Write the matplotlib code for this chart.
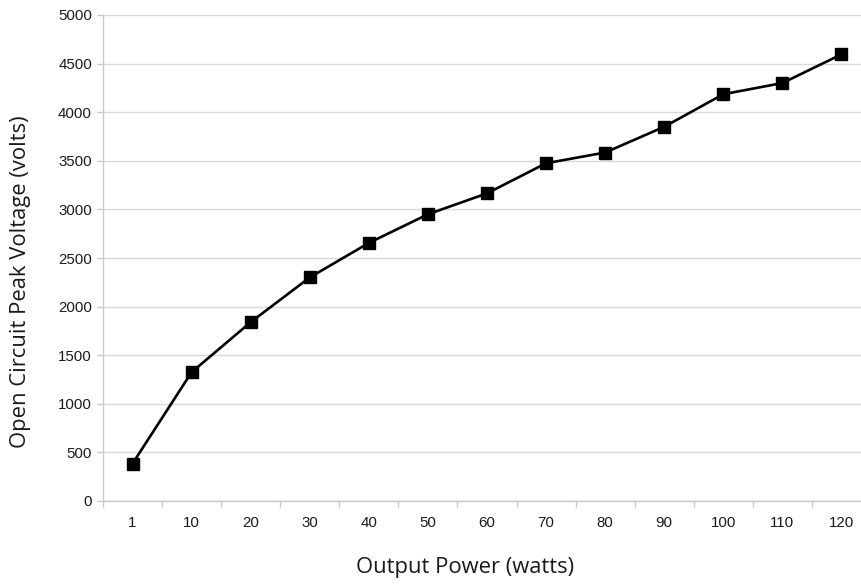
import matplotlib
matplotlib.use("Agg")
import matplotlib.pyplot as plt
import numpy as np

categories = ["1", "10", "20", "30", "40", "50", "60", "70", "80", "90", "100", "110", "120"]
voltage = [385, 1325, 1840, 2300, 2655, 2950, 3165, 3475, 3585, 3850, 4185, 4300, 4595]
y_ticks = [0, 500, 1000, 1500, 2000, 2500, 3000, 3500, 4000, 4500, 5000]

fig = plt.figure(figsize=(8.62, 5.86), dpi=100)
W, H = 862, 586
left_px, right_px, top_px, bottom_px = 103, 871, 15, 501
ax = fig.add_axes([left_px / W, (H - bottom_px) / H, (right_px - left_px) / W, (bottom_px - top_px) / H])

x = np.arange(len(categories))
ax.plot(x, voltage, color="black", linewidth=1.9, marker="s", markersize=8.6,
        markerfacecolor="black", markeredgecolor="black", zorder=3, clip_on=False)

ax.set_xlim(-0.5, len(categories) - 0.5)
ax.set_ylim(0, 5000)
ax.set_yticks(y_ticks)
ax.set_yticklabels([str(v) for v in y_ticks])
ax.set_xticks(x)
ax.set_xticklabels(categories)
ax.set_xticks(np.arange(-0.5, len(categories) + 0.5, 1.0), minor=True)

ax.grid(axis="y", color="#d9d9d9", linewidth=1.0, zorder=0)
ax.set_axisbelow(True)
for s in ["top", "right"]:
    ax.spines[s].set_visible(False)
for s in ["left", "bottom"]:
    ax.spines[s].set_color("#c8c8c8")
    ax.spines[s].set_linewidth(1.0)

tick_font = "Liberation Sans"
ax.tick_params(axis="y", which="major", length=4, width=1, color="#c8c8c8", pad=4,
               labelsize=10.8, labelcolor="#1a1a1a")
ax.tick_params(axis="x", which="major", length=0, pad=10.5, labelsize=10.8, labelcolor="#1a1a1a")
ax.tick_params(axis="x", which="minor", length=4, width=1, color="#c8c8c8")
for lab in ax.get_xticklabels() + ax.get_yticklabels():
    lab.set_fontfamily(tick_font)

label_font = ["Open Sans", "DejaVu Sans"]
fig.text(465 / W, 1 - 567 / H, "Output Power (watts)", ha="center", va="center",
         fontsize=15.8, family=label_font, color="#1a1a1a")
fig.text(21 / W, 1 - 282 / H, "Open Circuit Peak Voltage (volts)", ha="center", va="center",
         rotation=90, fontsize=15.8, family=label_font, color="#1a1a1a")

fig.savefig("out.png", dpi=100)
